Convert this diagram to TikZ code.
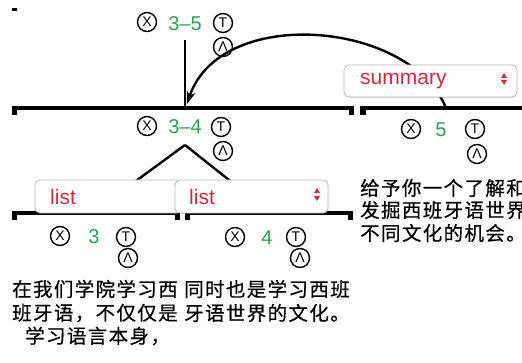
\documentclass[tikz,border=0pt]{standalone}
\usepackage{fontspec}
\setmainfont{Liberation Sans}
\newfontfamily\cjk[LetterSpace=7,FakeBold=0.5]{Noto Sans CJK SC}
\usetikzlibrary{arrows.meta,shadows}
\definecolor{numgreen}{RGB}{46,160,84}
\definecolor{relred}{RGB}{214,42,62}
\definecolor{boxgray}{RGB}{185,185,185}
\tikzset{
  sym/.style={circle,draw,line width=1.4pt,minimum size=19pt,inner sep=0pt,font=\fontsize{14}{14}\selectfont},
  num/.style={text=numgreen,font=\fontsize{20}{20}\selectfont,inner sep=0pt},
  relbox/.style={draw=boxgray,fill=white,rounded corners=5pt,line width=0.8pt,
     drop shadow={opacity=0.18,shadow xshift=0.6pt,shadow yshift=-1.2pt}},
  rellabel/.style={text=relred,font=\fontsize{21}{21}\selectfont,inner sep=0pt,anchor=west},
  conn/.style={line width=2.4pt},
  zh/.style={font=\cjk\fontsize{19.5}{19.5}\selectfont,inner sep=0pt,anchor=west},
}
\begin{document}
\begin{tikzpicture}[x=1pt,y=-1pt]
\useasboundingbox (0,0) rectangle (522,363);
% stray mark at top left
\fill (12,8) rectangle (17,11);
% bars (spans)
\fill (12,106) rectangle (354,110);
\fill (12,106) rectangle (17,115);
\fill (349,106) rectangle (354,115);
\fill (360,106) rectangle (522,110);
\fill (360,106) rectangle (366,115);
\fill (12,211) rectangle (180,215);
\fill (12,211) rectangle (17,220);
\fill (175,211) rectangle (180,220);
\fill (185,211) rectangle (353,215);
\fill (185,211) rectangle (190,220);
\fill (348,211) rectangle (353,220);
% coordinates for connectors
\coordinate (top35) at (185,40);
\coordinate (bar34) at (185,106);
\coordinate (arrowend) at (187,104);
\coordinate (bar5) at (446,108);
\coordinate (peak34) at (185,145);
\coordinate (bar3) at (95,211);
\coordinate (bar4) at (268,211);
% connectors
\draw[conn] (top35) -- (bar34);
\draw[conn,-{Stealth[length=13pt,width=9pt]}] (bar5) .. controls (410,20) and (220,5) .. (arrowend);
\draw[conn] (peak34) -- (bar3);
\draw[conn] (peak34) -- (bar4);
% relation boxes
\draw[relbox] (344,65) rectangle (517,97);
\node[rellabel] (sumlbl) at (360,81) {summary};
\fill[relred] (504,73) -- (501,78) -- (507,78) -- cycle;
\fill[relred] (501,80) -- (507,80) -- (504,85) -- cycle;
\draw[relbox] (35,180) rectangle (182,213);
\node[rellabel] (list1) at (50,197) {list};
\draw[relbox] (175,180) rectangle (328,213);
\node[rellabel] (list2) at (189,197) {list};
\fill[relred] (317,188) -- (314,193) -- (320,193) -- cycle;
\fill[relred] (314,196) -- (320,196) -- (317,201) -- cycle;
% node 3-5
\node[sym] (x35) at (147,22) {X};
\node[num] (n35) at (185,24) {3–5};
\node[sym] (t35) at (223,23) {T};
\node[sym] (l35) at (223,47) {Λ};
% node 3-4
\node[sym] (x34) at (147,126) {X};
\node[num] (n34) at (185,127) {3–4};
\node[sym] (t34) at (221,127) {T};
\node[sym] (l34) at (223,151) {Λ};
% node 5
\node[sym] (x5) at (411,129) {X};
\node[num] (n5) at (441,130) {5};
\node[sym] (t5) at (475,129) {T};
\node[sym] (l5) at (477,154) {Λ};
% node 3
\node[sym] (x3) at (60,236) {X};
\node[num] (n3) at (94,237) {3};
\node[sym] (t3) at (126,237) {T};
\node[sym] (l3) at (128,258) {Λ};
% node 4
\node[sym] (x4) at (235,237) {X};
\node[num] (n4) at (267,238) {4};
\node[sym] (t4) at (296,237) {T};
\node[sym] (l4) at (300,258) {Λ};
% texts
\node[zh] (a1) at (12,289) {在我们学院学习西};
\node[zh] (a2) at (12,313) {班牙语，不仅仅是};
\node[zh] (a3) at (25,336) {学习语言本身，};
\node[zh] (b1) at (184,289) {同时也是学习西班};
\node[zh] (b2) at (184,313) {牙语世界的文化。};
\node[zh] (c1) at (360,188) {给予你一个了解和};
\node[zh] (c2) at (360,210) {发掘西班牙语世界};
\node[zh] (c3) at (360,233) {不同文化的机会。};
\end{tikzpicture}
\end{document}
